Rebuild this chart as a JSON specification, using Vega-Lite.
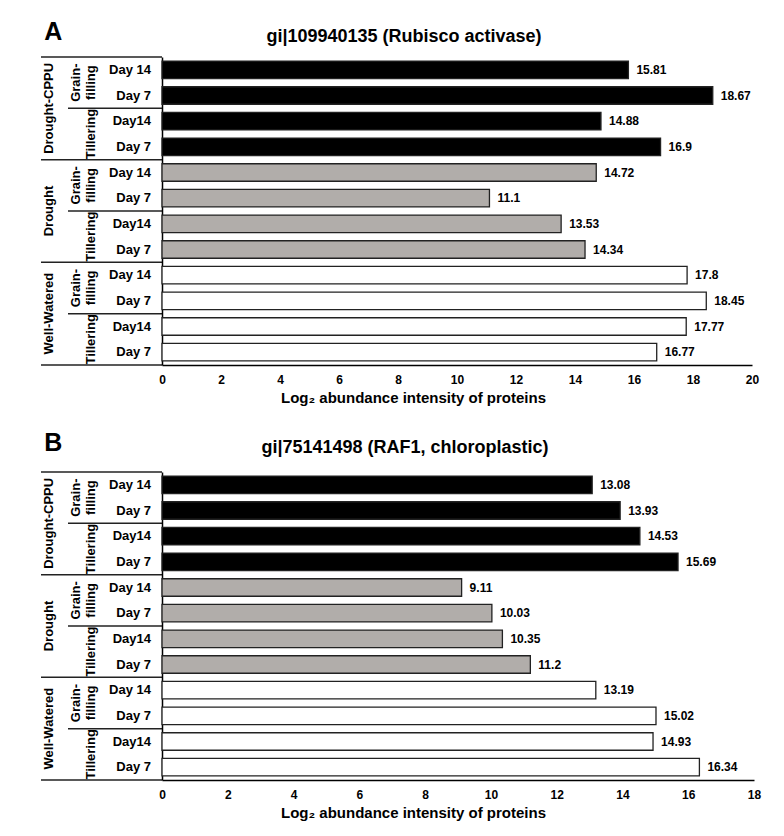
{
  "$schema": "https://vega.github.io/schema/vega-lite/v6.json",
  "background": "white",
  "padding": {"left": 40, "top": 20, "right": 10, "bottom": 10},
  "spacing": 26,
  "config": {
    "view": {"stroke": null},
    "font": "Liberation Sans",
    "title": {"font": "Liberation Sans", "fontWeight": "bold", "color": "#000000", "baseline": "alphabetic"},
    "axis": {
      "labelFont": "Liberation Sans", "labelFontWeight": "bold", "labelFontSize": 12, "labelColor": "#000000", "labelFlush": false,
      "titleFont": "Liberation Sans", "titleFontWeight": "bold", "titleFontSize": 15, "titleColor": "#000000",
      "domainColor": "#000000", "domainWidth": 1.5, "grid": false, "ticks": false
    }
  },
  "datasets": {
    "a": [
      {"id": "DC-GF-14", "treatment": "Drought-CPPU", "stage": "Grain-\nfilling", "day": "Day 14", "value": 15.81},
      {"id": "DC-GF-7", "treatment": "Drought-CPPU", "stage": "Grain-\nfilling", "day": "Day 7", "value": 18.67},
      {"id": "DC-T-14", "treatment": "Drought-CPPU", "stage": "Tillering", "day": "Day14", "value": 14.88},
      {"id": "DC-T-7", "treatment": "Drought-CPPU", "stage": "Tillering", "day": "Day 7", "value": 16.9},
      {"id": "D-GF-14", "treatment": "Drought", "stage": "Grain-\nfilling", "day": "Day 14", "value": 14.72},
      {"id": "D-GF-7", "treatment": "Drought", "stage": "Grain-\nfilling", "day": "Day 7", "value": 11.1},
      {"id": "D-T-14", "treatment": "Drought", "stage": "Tillering", "day": "Day14", "value": 13.53},
      {"id": "D-T-7", "treatment": "Drought", "stage": "Tillering", "day": "Day 7", "value": 14.34},
      {"id": "WW-GF-14", "treatment": "Well-Watered", "stage": "Grain-\nfilling", "day": "Day 14", "value": 17.8},
      {"id": "WW-GF-7", "treatment": "Well-Watered", "stage": "Grain-\nfilling", "day": "Day 7", "value": 18.45},
      {"id": "WW-T-14", "treatment": "Well-Watered", "stage": "Tillering", "day": "Day14", "value": 17.77},
      {"id": "WW-T-7", "treatment": "Well-Watered", "stage": "Tillering", "day": "Day 7", "value": 16.77}
    ],
    "b": [
      {"id": "DC-GF-14", "treatment": "Drought-CPPU", "stage": "Grain-\nfilling", "day": "Day 14", "value": 13.08},
      {"id": "DC-GF-7", "treatment": "Drought-CPPU", "stage": "Grain-\nfilling", "day": "Day 7", "value": 13.93},
      {"id": "DC-T-14", "treatment": "Drought-CPPU", "stage": "Tillering", "day": "Day14", "value": 14.53},
      {"id": "DC-T-7", "treatment": "Drought-CPPU", "stage": "Tillering", "day": "Day 7", "value": 15.69},
      {"id": "D-GF-14", "treatment": "Drought", "stage": "Grain-\nfilling", "day": "Day 14", "value": 9.11},
      {"id": "D-GF-7", "treatment": "Drought", "stage": "Grain-\nfilling", "day": "Day 7", "value": 10.03},
      {"id": "D-T-14", "treatment": "Drought", "stage": "Tillering", "day": "Day14", "value": 10.35},
      {"id": "D-T-7", "treatment": "Drought", "stage": "Tillering", "day": "Day 7", "value": 11.2},
      {"id": "WW-GF-14", "treatment": "Well-Watered", "stage": "Grain-\nfilling", "day": "Day 14", "value": 13.19},
      {"id": "WW-GF-7", "treatment": "Well-Watered", "stage": "Grain-\nfilling", "day": "Day 7", "value": 15.02},
      {"id": "WW-T-14", "treatment": "Well-Watered", "stage": "Tillering", "day": "Day14", "value": 14.93},
      {"id": "WW-T-7", "treatment": "Well-Watered", "stage": "Tillering", "day": "Day 7", "value": 16.34}
    ]
  },
  "vconcat": [
    {
      "data": {"name": "a"},
      "bounds": "flush",
      "spacing": 0,
      "hconcat": [
        {
          "width": 121,
          "height": 308,
          "title": {"text": "A", "fontSize": 25, "anchor": "start", "dx": 4, "offset": 11},
          "encoding": {
            "y": {"field": "id", "type": "nominal", "sort": null, "axis": null,
                  "scale": {"domain": ["DC-GF-14","DC-GF-7","DC-T-14","DC-T-7","D-GF-14","D-GF-7","D-T-14","D-T-7","WW-GF-14","WW-GF-7","WW-T-14","WW-T-7"], "paddingInner": 0, "paddingOuter": 0}}
          },
          "layer": [
            {
              "mark": {"type": "text", "align": "right", "baseline": "middle", "fontSize": 13, "fontWeight": "bold", "color": "#000000"},
              "encoding": {
                "x": {"datum": 110, "type": "quantitative", "axis": null, "scale": {"domain": [0, 121], "nice": false, "zero": false}},
                "text": {"field": "day"}
              }
            },
            {
              "transform": [{"filter": "datum.stage != 'Tillering' && datum.day == 'Day 14'"}],
              "mark": {"type": "text", "angle": 270, "align": "center", "baseline": "bottom", "lineBreak": "\n", "lineHeight": 15, "fontSize": 13, "fontWeight": "bold", "color": "#000000"},
              "encoding": {
                "x": {"datum": 42, "type": "quantitative", "axis": null, "scale": {"domain": [0, 121], "nice": false, "zero": false}},
                "y": {"field": "id", "type": "nominal", "sort": null, "bandPosition": 1},
                "text": {"field": "stage"}
              }
            },
            {
              "transform": [{"filter": "datum.stage == 'Tillering' && datum.day == 'Day14'"}],
              "mark": {"type": "text", "angle": 270, "align": "center", "baseline": "bottom", "fontSize": 13, "fontWeight": "bold", "color": "#000000"},
              "encoding": {
                "x": {"datum": 57, "type": "quantitative", "axis": null, "scale": {"domain": [0, 121], "nice": false, "zero": false}},
                "y": {"field": "id", "type": "nominal", "sort": null, "bandPosition": 1},
                "text": {"field": "stage"}
              }
            },
            {
              "transform": [{"filter": "datum.stage != 'Tillering' && datum.day == 'Day 7'"}],
              "mark": {"type": "text", "angle": 270, "align": "center", "baseline": "middle", "fontSize": 13, "fontWeight": "bold", "color": "#000000"},
              "encoding": {
                "x": {"datum": 8, "type": "quantitative", "axis": null, "scale": {"domain": [0, 121], "nice": false, "zero": false}},
                "y": {"field": "id", "type": "nominal", "sort": null, "bandPosition": 1},
                "text": {"field": "treatment"}
              }
            },
            {
              "transform": [{"filter": "datum.stage != 'Tillering' && datum.day == 'Day 14'"}],
              "mark": {"type": "rule", "color": "#222222", "strokeWidth": 1.5},
              "encoding": {
                "x": {"datum": 0, "type": "quantitative", "axis": null, "scale": {"domain": [0, 121], "nice": false, "zero": false}},
                "x2": {"datum": 121},
                "y": {"field": "id", "type": "nominal", "sort": null, "bandPosition": 0}
              }
            },
            {
              "transform": [{"filter": "datum.stage == 'Tillering' && datum.day == 'Day14'"}],
              "mark": {"type": "rule", "color": "#222222", "strokeWidth": 1.5},
              "encoding": {
                "x": {"datum": 27, "type": "quantitative", "axis": null, "scale": {"domain": [0, 121], "nice": false, "zero": false}},
                "x2": {"datum": 121},
                "y": {"field": "id", "type": "nominal", "sort": null, "bandPosition": 0}
              }
            },
            {
              "transform": [{"filter": "datum.id == 'WW-T-7'"}],
              "mark": {"type": "rule", "color": "#222222", "strokeWidth": 1.5},
              "encoding": {
                "x": {"datum": 0, "type": "quantitative", "axis": null, "scale": {"domain": [0, 121], "nice": false, "zero": false}},
                "x2": {"datum": 121},
                "y": {"field": "id", "type": "nominal", "sort": null, "bandPosition": 1}
              }
            }
          ]
        },
        {
          "width": 590,
          "height": 308,
          "title": {"text": "gi|109940135 (Rubisco activase)", "fontSize": 18, "dx": -53, "offset": 11},
          "encoding": {
            "y": {"field": "id", "type": "nominal", "sort": null,
                  "scale": {"domain": ["DC-GF-14","DC-GF-7","DC-T-14","DC-T-7","D-GF-14","D-GF-7","D-T-14","D-T-7","WW-GF-14","WW-GF-7","WW-T-14","WW-T-7"], "paddingInner": 0.32, "paddingOuter": 0.16},
                  "axis": {"labels": false, "ticks": false, "title": null}}
          },
          "layer": [
            {
              "mark": {"type": "bar", "stroke": "#222222", "strokeWidth": 1.3},
              "encoding": {
                "x": {"field": "value", "type": "quantitative",
                      "scale": {"domain": [0, 20], "nice": false},
                      "axis": {"values": [0, 2, 4, 6, 8, 10, 12, 14, 16, 18, 20], "labelPadding": 9, "title": "Log₂ abundance intensity of proteins", "titleX": 251, "titlePadding": 5}},
                "fill": {"field": "treatment", "type": "nominal", "legend": null,
                         "scale": {"domain": ["Drought-CPPU", "Drought", "Well-Watered"], "range": ["#000000", "#b1adaa", "#ffffff"]}}
              }
            },
            {
              "mark": {"type": "text", "align": "left", "baseline": "middle", "dx": 8, "fontSize": 12, "fontWeight": "bold", "color": "#000000"},
              "encoding": {
                "x": {"field": "value", "type": "quantitative"},
                "text": {"field": "value", "type": "quantitative", "format": "~g"}
              }
            }
          ]
        }
      ]
    },
    {
      "data": {"name": "b"},
      "bounds": "flush",
      "spacing": 0,
      "hconcat": [
        {
          "width": 121,
          "height": 308,
          "title": {"text": "B", "fontSize": 25, "anchor": "start", "dx": 4, "offset": 15},
          "encoding": {
            "y": {"field": "id", "type": "nominal", "sort": null, "axis": null,
                  "scale": {"domain": ["DC-GF-14","DC-GF-7","DC-T-14","DC-T-7","D-GF-14","D-GF-7","D-T-14","D-T-7","WW-GF-14","WW-GF-7","WW-T-14","WW-T-7"], "paddingInner": 0, "paddingOuter": 0}}
          },
          "layer": [
            {
              "mark": {"type": "text", "align": "right", "baseline": "middle", "fontSize": 13, "fontWeight": "bold", "color": "#000000"},
              "encoding": {
                "x": {"datum": 110, "type": "quantitative", "axis": null, "scale": {"domain": [0, 121], "nice": false, "zero": false}},
                "text": {"field": "day"}
              }
            },
            {
              "transform": [{"filter": "datum.stage != 'Tillering' && datum.day == 'Day 14'"}],
              "mark": {"type": "text", "angle": 270, "align": "center", "baseline": "bottom", "lineBreak": "\n", "lineHeight": 15, "fontSize": 13, "fontWeight": "bold", "color": "#000000"},
              "encoding": {
                "x": {"datum": 42, "type": "quantitative", "axis": null, "scale": {"domain": [0, 121], "nice": false, "zero": false}},
                "y": {"field": "id", "type": "nominal", "sort": null, "bandPosition": 1},
                "text": {"field": "stage"}
              }
            },
            {
              "transform": [{"filter": "datum.stage == 'Tillering' && datum.day == 'Day14'"}],
              "mark": {"type": "text", "angle": 270, "align": "center", "baseline": "bottom", "fontSize": 13, "fontWeight": "bold", "color": "#000000"},
              "encoding": {
                "x": {"datum": 57, "type": "quantitative", "axis": null, "scale": {"domain": [0, 121], "nice": false, "zero": false}},
                "y": {"field": "id", "type": "nominal", "sort": null, "bandPosition": 1},
                "text": {"field": "stage"}
              }
            },
            {
              "transform": [{"filter": "datum.stage != 'Tillering' && datum.day == 'Day 7'"}],
              "mark": {"type": "text", "angle": 270, "align": "center", "baseline": "middle", "fontSize": 13, "fontWeight": "bold", "color": "#000000"},
              "encoding": {
                "x": {"datum": 8, "type": "quantitative", "axis": null, "scale": {"domain": [0, 121], "nice": false, "zero": false}},
                "y": {"field": "id", "type": "nominal", "sort": null, "bandPosition": 1},
                "text": {"field": "treatment"}
              }
            },
            {
              "transform": [{"filter": "datum.stage != 'Tillering' && datum.day == 'Day 14'"}],
              "mark": {"type": "rule", "color": "#222222", "strokeWidth": 1.5},
              "encoding": {
                "x": {"datum": 0, "type": "quantitative", "axis": null, "scale": {"domain": [0, 121], "nice": false, "zero": false}},
                "x2": {"datum": 121},
                "y": {"field": "id", "type": "nominal", "sort": null, "bandPosition": 0}
              }
            },
            {
              "transform": [{"filter": "datum.stage == 'Tillering' && datum.day == 'Day14'"}],
              "mark": {"type": "rule", "color": "#222222", "strokeWidth": 1.5},
              "encoding": {
                "x": {"datum": 27, "type": "quantitative", "axis": null, "scale": {"domain": [0, 121], "nice": false, "zero": false}},
                "x2": {"datum": 121},
                "y": {"field": "id", "type": "nominal", "sort": null, "bandPosition": 0}
              }
            },
            {
              "transform": [{"filter": "datum.id == 'WW-T-7'"}],
              "mark": {"type": "rule", "color": "#222222", "strokeWidth": 1.5},
              "encoding": {
                "x": {"datum": 0, "type": "quantitative", "axis": null, "scale": {"domain": [0, 121], "nice": false, "zero": false}},
                "x2": {"datum": 121},
                "y": {"field": "id", "type": "nominal", "sort": null, "bandPosition": 1}
              }
            }
          ]
        },
        {
          "width": 592,
          "height": 308,
          "title": {"text": "gi|75141498 (RAF1, chloroplastic)", "fontSize": 18, "dx": -53, "offset": 15},
          "encoding": {
            "y": {"field": "id", "type": "nominal", "sort": null,
                  "scale": {"domain": ["DC-GF-14","DC-GF-7","DC-T-14","DC-T-7","D-GF-14","D-GF-7","D-T-14","D-T-7","WW-GF-14","WW-GF-7","WW-T-14","WW-T-7"], "paddingInner": 0.32, "paddingOuter": 0.16},
                  "axis": {"labels": false, "ticks": false, "title": null}}
          },
          "layer": [
            {
              "mark": {"type": "bar", "stroke": "#222222", "strokeWidth": 1.3},
              "encoding": {
                "x": {"field": "value", "type": "quantitative",
                      "scale": {"domain": [0, 18], "nice": false},
                      "axis": {"values": [0, 2, 4, 6, 8, 10, 12, 14, 16, 18], "labelPadding": 9, "title": "Log₂ abundance intensity of proteins", "titleX": 251, "titlePadding": 5}},
                "fill": {"field": "treatment", "type": "nominal", "legend": null,
                         "scale": {"domain": ["Drought-CPPU", "Drought", "Well-Watered"], "range": ["#000000", "#b1adaa", "#ffffff"]}}
              }
            },
            {
              "mark": {"type": "text", "align": "left", "baseline": "middle", "dx": 8, "fontSize": 12, "fontWeight": "bold", "color": "#000000"},
              "encoding": {
                "x": {"field": "value", "type": "quantitative"},
                "text": {"field": "value", "type": "quantitative", "format": "~g"}
              }
            }
          ]
        }
      ]
    }
  ]
}
